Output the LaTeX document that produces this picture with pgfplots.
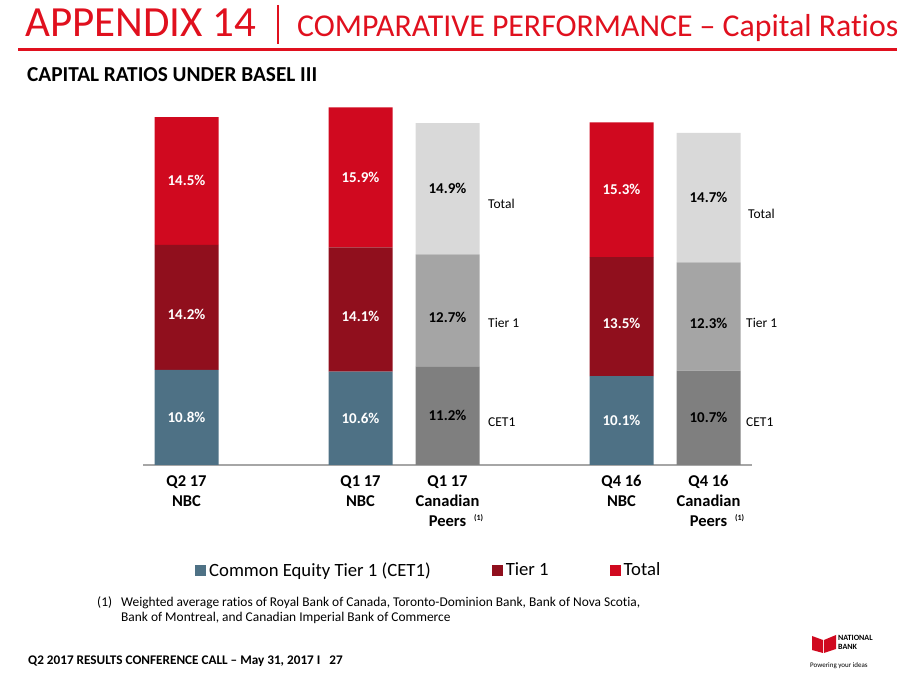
\documentclass[border=0pt]{standalone}
\usepackage{pgfplots}
\pgfplotsset{compat=1.18}
\usepackage{fontspec}
\setmainfont{Carlito}[Ligatures=NoCommon]
\definecolor{nbcblue}{HTML}{4E7185}
\definecolor{nbcdark}{HTML}{900F1D}
\definecolor{nbcred}{HTML}{D0091F}
\definecolor{pdark}{HTML}{7F7F7F}
\definecolor{pmid}{HTML}{A5A5A5}
\definecolor{plight}{HTML}{D9D9D9}
\definecolor{titlered}{HTML}{E0101E}
\newcommand{\fs}[1]{\fontsize{#1}{#1}\selectfont}
\newcommand{\supone}{\makebox[0pt][l]{\hspace{8pt}\raisebox{6pt}{\fs{8}(1)}}}
\pgfplotsset{
  capbase/.style={
    at={(143pt,219pt)}, anchor=south west,
    scale only axis, width=609pt, height=370pt,
    xmin=-0.5, xmax=6.5, ymin=0, ymax=42,
    ybar stacked, bar width=64pt,
    point meta=rawy,
    /pgf/number format/assume math mode=true,
    nodes near coords={\pgfmathprintnumber[fixed,precision=1,fixed zerofill,assume math mode=true]{\pgfplotspointmeta}\%},
    every node near coord/.append style={anchor=center, inner sep=0pt, font=\bfseries\fs{15}},
    clip=false,
  },
}
\begin{document}
\begin{tikzpicture}
\useasboundingbox (0,0) rectangle (914pt,684pt);
\begin{axis}[capbase,
  axis x line*=bottom, axis y line=none,
  x axis line style={draw=black!35, line width=1.3pt, -},
  xtick={0,2,3,5,6},
  xticklabels={{Q2 17\\NBC},{Q1 17\\NBC},{Q1 17\\Canadian\\Peers\supone},{Q4 16\\NBC},{Q4 16\\Canadian\\Peers\supone}},
  xticklabel style={align=center, inner sep=0pt, yshift=-10pt, font=\bfseries\fontsize{16.5}{20}\selectfont},
  major tick length=0pt,
  every node near coord/.append style={text=white},
  legend columns=3,
  legend image code/.code={\draw[#1,draw=none] (0pt,-5.5pt) rectangle (11pt,5.5pt);},
  legend style={at={(0.0854,-0.284)}, anchor=west, draw=none, inner sep=0pt,
    font=\fs{18.7}, nodes={inner xsep=3pt, inner ysep=0pt},
    /tikz/every even column/.append style={column sep=58pt}},
]
\addplot[fill=nbcblue, draw=none] coordinates {(0,10.8) (2,10.6) (5,10.1)};
\addplot[fill=nbcdark, draw=none, every node near coord/.append style={yshift=-7pt}] coordinates {(0,14.2) (2,14.1) (5,13.5)};
\addplot[fill=nbcred, draw=none] coordinates {(0,14.5) (2,15.9) (5,15.3)};
\legend{Common Equity Tier 1 (CET1), Tier 1, Total}
\end{axis}
\begin{axis}[capbase, hide axis, every node near coord/.append style={text=black}]
\addplot[fill=pdark, draw=none] coordinates {(3,11.2) (6,10.7)};
\addplot[fill=pmid, draw=none, every node near coord/.append style={yshift=-7pt}] coordinates {(3,12.7) (6,12.3)};
\addplot[fill=plight, draw=none] coordinates {(3,14.9) (6,14.7)};
\end{axis}
\begin{scope}[x=1pt, y=-1pt, yshift=684pt]
  % title
  \node[anchor=base west, inner sep=0pt, text=titlered, font=\fs{43}] at (25,37) {APPENDIX 14};
  \draw[titlered, line width=1.6pt] (278,5) -- (278,44);
  \node[anchor=base west, inner sep=0pt, text=titlered, font=\fs{31.8}] at (297,37) {COMPARATIVE PERFORMANCE – Capital Ratios};
  \draw[titlered, line width=2.6pt] (18,49.5) -- (897,49.5);
  \node[anchor=base west, inner sep=0pt, font=\bfseries\fs{21.3}] at (27,82) {CAPITAL RATIOS UNDER BASEL III};
  % side labels
  \begin{scope}[every node/.style={anchor=west, inner sep=0pt, font=\fs{13.5}}]
    \node at (488,204) {Total};
    \node at (488,323) {Tier 1};
    \node at (488,422) {CET1};
    \node at (748,214) {Total};
    \node at (746,323) {Tier 1};
    \node at (746,422) {CET1};
  \end{scope}
  % footnote
  \node[anchor=base west, inner sep=0pt, font=\fs{13.4}] at (97,607) {(1)};
  \node[anchor=base west, inner sep=0pt, font=\fs{13.4}] at (121,607) {Weighted average ratios of Royal Bank of Canada, Toronto-Dominion Bank, Bank of Nova Scotia,};
  \node[anchor=base west, inner sep=0pt, font=\fs{13.4}] at (121,622) {Bank of Montreal, and Canadian Imperial Bank of Commerce};
  % footer
  \node[anchor=base west, inner sep=0pt, font=\bfseries\fs{13.2}] at (28,665) {Q2 2017 RESULTS CONFERENCE CALL – May 31, 2017 I \ \ 27};
  % logo
  \fill[nbcred] (812,636) -- (823,640) -- (823,653) -- (812,650) -- cycle;
  \fill[nbcred] (824,640) -- (836,635) -- (836,649) -- (824,653) -- cycle;
  \node[anchor=base west, inner sep=0pt, font=\bfseries\fs{8}] at (838,641) {NATIONAL};
  \node[anchor=base west, inner sep=0pt, font=\bfseries\fs{8}] at (838,650) {BANK};
  \node[anchor=base west, inner sep=0pt, font=\fs{7}] at (810,668) {Powering your ideas};
\end{scope}
\end{tikzpicture}
\end{document}
